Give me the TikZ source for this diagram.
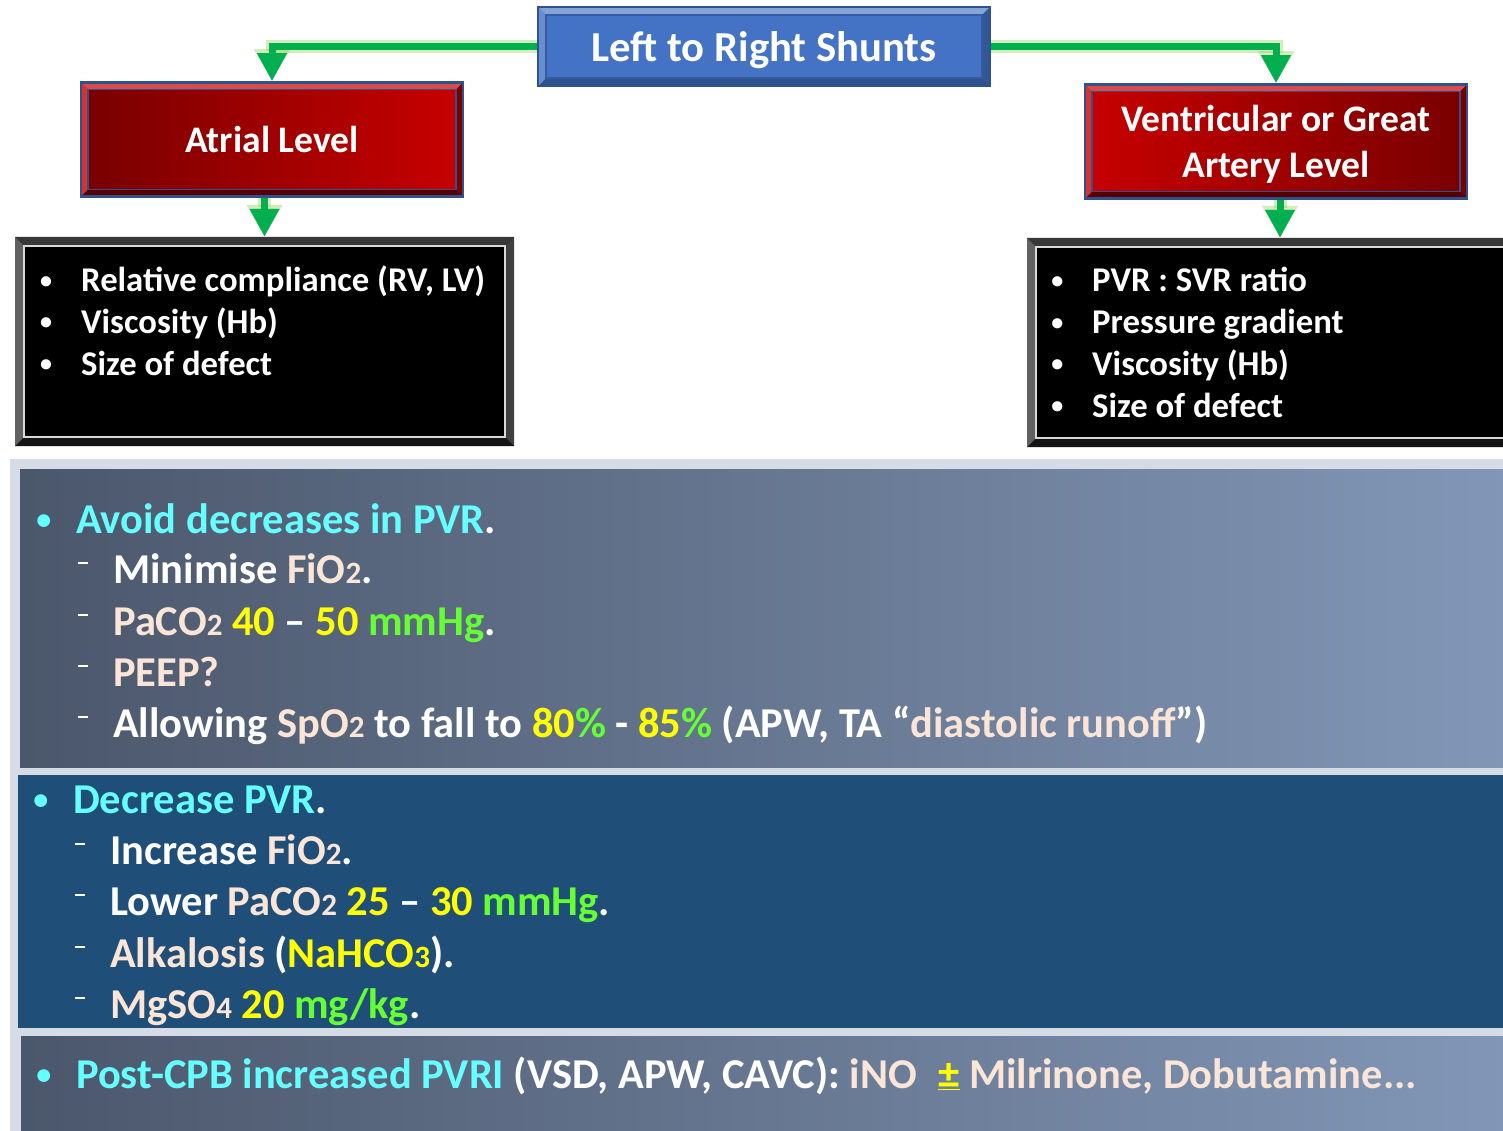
\documentclass[tikz,border=0pt]{standalone}
\usepackage{fontspec}
\setmainfont{Carlito}
\usetikzlibrary{arrows.meta}

\definecolor{titleblue}{HTML}{4472C4}
\definecolor{edgeblue}{HTML}{2F528F}
\definecolor{darkred}{HTML}{780000}
\definecolor{brightred}{HTML}{C80000}
\definecolor{flowgreen}{HTML}{00B050}
\definecolor{glowgreen}{HTML}{92D050}
\definecolor{slateleft}{HTML}{4B576B}
\definecolor{slateright}{HTML}{8297B7}
\definecolor{navypanel}{HTML}{1F4E79}
\definecolor{paleframe}{HTML}{D6DCE5}
\definecolor{hcyan}{HTML}{66FFFF}
\definecolor{peach}{HTML}{FBE5D6}
\definecolor{hyellow}{HTML}{FFFF00}
\definecolor{hgreen}{HTML}{66FF33}

\newcommand\txcy[1]{\textcolor{hcyan}{#1}}
\newcommand\txpc[1]{\textcolor{peach}{#1}}
\newcommand\txyl[1]{\textcolor{hyellow}{#1}}
\newcommand\txgr[1]{\textcolor{hgreen}{#1}}
\newcommand\lowdig[1]{{\fontsize{31}{31}\selectfont #1}}
\newcommand\headbul{\llap{\raisebox{4pt}{\textcolor{hcyan}{\fontsize{30}{30}\selectfont •}}\hspace{25pt}}}
\newcommand\subdash{\llap{\rule[19pt]{10pt}{2.5pt}\hspace{25pt}}}
\newcommand\factbul{\llap{\raisebox{3.5pt}{\fontsize{24}{24}\selectfont •}\hspace{29pt}}}

\begin{document}
\begin{tikzpicture}[x=1pt, y=-1pt,
    bevel/.style n args={6}{path picture={
      \coordinate (bnw) at (path picture bounding box.north west);
      \coordinate (bne) at (path picture bounding box.north east);
      \coordinate (bsw) at (path picture bounding box.south west);
      \coordinate (bse) at (path picture bounding box.south east);
      \fill[#1] (bnw) -- (bne) -- ([shift={(-#6,-#6)}]bne) -- ([shift={(#6,-#6)}]bnw) -- cycle;
      \fill[#2] (bsw) -- (bse) -- ([shift={(-#6,#6)}]bse) -- ([shift={(#6,#6)}]bsw) -- cycle;
      \fill[#3] (bnw) -- (bsw) -- ([shift={(#6,#6)}]bsw) -- ([shift={(#6,-#6)}]bnw) -- cycle;
      \fill[#4] (bne) -- (bse) -- ([shift={(-#6,#6)}]bse) -- ([shift={(-#6,-#6)}]bne) -- cycle;
      \draw[#5, line width=1.5pt] ([shift={(#6,-#6)}]bnw) rectangle ([shift={(-#6,#6)}]bse);
    }},
    headbox/.style={inner sep=0pt, minimum width=452pt, minimum height=79pt, fill=titleblue,
      draw=edgeblue, line width=2.5pt, text=white, text depth=0pt, font=\fontsize{42.7}{42.7}\selectfont\bfseries,
      bevel={titleblue!65!white}{edgeblue}{titleblue!80!white}{edgeblue!85!titleblue}{edgeblue!70!titleblue}{8pt}},
    levelbox/.style={inner sep=0pt, minimum width=382pt, minimum height=114pt, draw=edgeblue,
      line width=2.5pt, text=white, text depth=0pt, align=center, font=\fontsize{37.5}{46}\selectfont\bfseries,
      bevel={brightred!70!white}{darkred!70!black}{brightred!80!white}{darkred}{edgeblue}{7pt}},
    factbox/.style={inner sep=0pt, minimum height=209pt, fill=black,
      bevel={black!78}{black!92}{black!62}{black!75}{white!85!black}{9pt}},
    conn/.style={line width=7pt, draw=flowgreen, -{Triangle[width=28pt,length=28pt]},
      preaction={draw=glowgreen, draw opacity=0.4, line width=13pt, -{Triangle[width=34pt,length=32pt]}}},
    ftxt/.style={anchor=base west, inner sep=0pt, text=white, font=\fontsize{34.7}{34.7}\selectfont\bfseries},
    ptxt/.style={anchor=base west, inner sep=0pt, text=white, font=\fontsize{42.5}{42.5}\selectfont\bfseries}
]
\clip (0,0) rectangle (1503,1131);
\fill[white] (0,0) rectangle (1503,1131);

% flowchart part
\node[headbox] (shunts) at (764,46.5) {Left to Right Shunts};
\node[levelbox, left color=darkred, right color=brightred] (atrial) at (272,139.5) {Atrial Level};
\node[levelbox, left color=brightred, right color=darkred] (vent) at (1276,141.5) {Ventricular or Great\\Artery Level};
\node[factbox, minimum width=499pt] (atrfacts) at (264.5,341.5) {};
\node[factbox, minimum width=506pt] (ventfacts) at (1280,342.5) {};

\draw[conn] (shunts.west) -| (atrial.north);
\draw[conn] (shunts.east) -| (vent.north);
\draw[conn] (atrial.south -| atrfacts.north) -- (atrfacts.north);
\draw[conn] (vent.south -| ventfacts.north) -- (ventfacts.north);

\foreach \t [count=\i from 0] in {{Relative compliance (RV, LV)}, {Viscosity (Hb)}, {Size of defect}}
  \node[ftxt] (atrline\i) at (81, 292+41.5*\i) {\factbul\t};
\foreach \t [count=\i from 0] in {{PVR : SVR ratio}, {Pressure gradient}, {Viscosity (Hb)}, {Size of defect}}
  \node[ftxt] (ventline\i) at (1092, 292+41.7*\i) {\factbul\t};

% management panels
\fill[paleframe] (10,459) rectangle (1510,1140);
\shade[left color=slateleft, right color=slateright] (20,469) rectangle (1510,767);
\fill[navypanel] (18,775) rectangle (1510,1028);
\shade[left color=slateleft, right color=slateright] (21,1036) rectangle (1510,1140);

\node[ptxt] (avoid) at (76,533) {\headbul\txcy{Avoid decreases in PVR}.};
\node[ptxt] (minfio) at (113,583) {\subdash Minimise \txpc{FiO\lowdig{2}}.};
\node[ptxt] (paco) at (113,635) {\subdash\txpc{PaCO\lowdig{2}} \txyl{40} – \txyl{50} \txgr{mmHg}.};
\node[ptxt] (peep) at (113,686) {\subdash\txpc{PEEP?}};
\node[ptxt] (spo) at (113,737) {\subdash Allowing \txpc{SpO\lowdig{2}} to fall to \txyl{80}\txgr{\%} - \txyl{85}\txgr{\%} (APW, TA “\txpc{diastolic runoff}”)};

\node[ptxt] (decr) at (73,813) {\headbul\txcy{Decrease PVR}.};
\node[ptxt] (incfio) at (110,864) {\subdash Increase \txpc{FiO\lowdig{2}}.};
\node[ptxt] (lowpaco) at (110,915) {\subdash Lower \txpc{PaCO\lowdig{2}} \txyl{25} – \txyl{30} \txgr{mmHg}.};
\node[ptxt] (alk) at (110,967) {\subdash\txpc{Alkalosis} (\txyl{NaHCO\lowdig{3}}).};
\node[ptxt] (mgso) at (110,1018) {\subdash\txpc{MgSO\lowdig{4}} \txyl{20} \txgr{mg/kg}.};

\node[ptxt] (postcpb) at (76,1088) {\headbul\txcy{Post-CPB increased PVRI} (VSD, APW, CAVC): \txpc{iNO}\hspace{0.5em}\txyl{\underline{±}} \txpc{Milrinone, Dobutamine...}};
\end{tikzpicture}
\end{document}
